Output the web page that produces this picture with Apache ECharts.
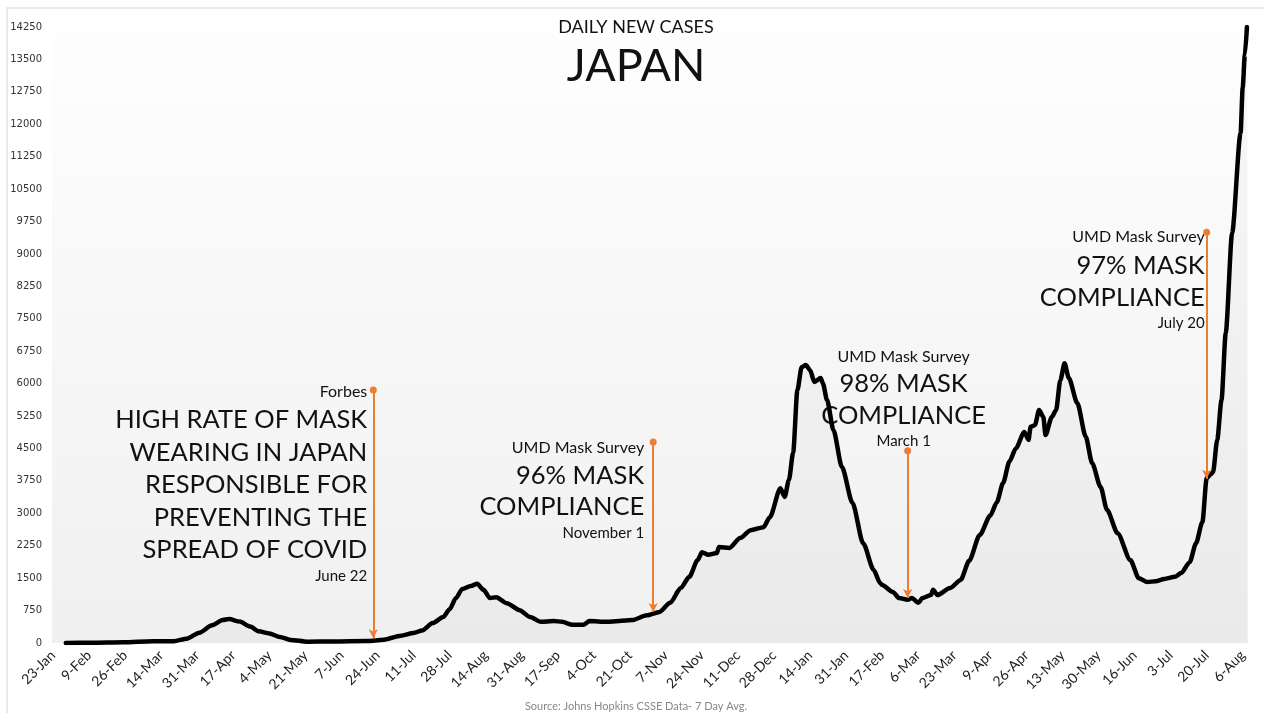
<!DOCTYPE html>
<html>
<head>
<meta charset="utf-8">
<title>Daily New Cases – Japan</title>
<script src="https://cdn.jsdelivr.net/npm/echarts@6/dist/echarts.min.js"></script>
<style>
  html, body { margin: 0; padding: 0; background: #ffffff; }
  #chart { width: 1264px; height: 713px; }
</style>
</head>
<body>
<div id="chart"></div>
<script>
// Day range of the category axis (one category per day)
const FIRST_DAY = '2020-01-23';
const LAST_DAY = '2021-08-08';

// Labels printed every 17 days along the x axis
const tickLabels = [
  '23-Jan', '9-Feb', '26-Feb', '14-Mar', '31-Mar', '17-Apr', '4-May', '21-May', '7-Jun',
  '24-Jun', '11-Jul', '28-Jul', '14-Aug', '31-Aug', '17-Sep', '4-Oct', '21-Oct', '7-Nov',
  '24-Nov', '11-Dec', '28-Dec', '14-Jan', '31-Jan', '17-Feb', '6-Mar', '23-Mar', '9-Apr',
  '26-Apr', '13-May', '30-May', '16-Jun', '3-Jul', '20-Jul', '6-Aug'
];

// 7-day average of daily new cases
const avgDates = [
  '2020-01-29', '2020-02-10', '2020-02-25', '2020-03-10', '2020-03-20', '2020-03-26',
  '2020-04-01', '2020-04-07', '2020-04-12', '2020-04-15', '2020-04-20', '2020-04-25',
  '2020-04-29', '2020-05-04', '2020-05-09', '2020-05-14', '2020-05-22', '2020-06-03',
  '2020-06-19', '2020-06-27', '2020-07-05', '2020-07-11', '2020-07-15', '2020-07-20',
  '2020-07-25', '2020-07-28', '2020-07-31', '2020-08-03', '2020-08-07', '2020-08-10',
  '2020-08-13', '2020-08-16', '2020-08-19', '2020-08-24', '2020-08-30', '2020-09-04',
  '2020-09-09', '2020-09-15', '2020-09-19', '2020-09-24', '2020-09-29', '2020-10-02',
  '2020-10-10', '2020-10-16', '2020-10-22', '2020-10-29', '2020-11-04', '2020-11-09',
  '2020-11-14', '2020-11-18', '2020-11-22', '2020-11-24', '2020-11-27', '2020-12-01',
  '2020-12-02', '2020-12-07', '2020-12-12', '2020-12-17', '2020-12-23', '2020-12-26',
  '2020-12-31', '2021-01-02', '2021-01-04', '2021-01-06', '2021-01-08', '2021-01-10',
  '2021-01-12', '2021-01-14', '2021-01-16', '2021-01-19', '2021-01-20', '2021-01-22',
  '2021-01-25', '2021-01-29', '2021-02-03', '2021-02-08', '2021-02-13', '2021-02-16',
  '2021-02-17', '2021-02-22', '2021-02-25', '2021-03-01', '2021-03-03', '2021-03-06',
  '2021-03-08', '2021-03-12', '2021-03-13', '2021-03-15', '2021-03-21', '2021-03-26',
  '2021-03-30', '2021-04-04', '2021-04-09', '2021-04-12', '2021-04-15', '2021-04-18',
  '2021-04-21', '2021-04-25', '2021-04-27', '2021-04-28', '2021-04-30', '2021-05-02',
  '2021-05-04', '2021-05-05', '2021-05-08', '2021-05-10', '2021-05-12', '2021-05-14',
  '2021-05-16', '2021-05-20', '2021-05-24', '2021-05-27', '2021-05-31', '2021-06-03',
  '2021-06-08', '2021-06-14', '2021-06-18', '2021-06-22', '2021-06-26', '2021-06-30',
  '2021-07-05', '2021-07-08', '2021-07-12', '2021-07-15', '2021-07-18', '2021-07-20',
  '2021-07-22', '2021-07-23', '2021-07-25', '2021-07-27', '2021-07-29', '2021-08-01',
  '2021-08-05', '2021-08-06', '2021-08-07', '2021-08-08'
];
const avgCases = [
  2, 4, 15, 40, 42, 100,
  240, 410, 530, 555, 495, 380,
  270, 220, 140, 70, 30, 35,
  45, 75, 170, 230, 290, 460,
  600, 780, 1040, 1250, 1320, 1370,
  1230, 1040, 1060, 920, 760, 600,
  490, 510, 490, 420, 420, 510,
  490, 510, 530, 640, 720, 930,
  1270, 1530, 1920, 2100, 2040, 2080,
  2220, 2200, 2430, 2610, 2680, 2910,
  3580, 3380, 3770, 4400, 5850, 6380,
  6430, 6310, 6040, 6130, 6010, 5620,
  4930, 4070, 3240, 2310, 1690, 1390,
  1340, 1180, 1040, 1000, 1040, 930,
  1040, 1110, 1230, 1110, 1270, 1460,
  1900, 2500, 2950, 3250, 3700, 4200,
  4500, 4880, 4700, 5000, 5040, 5390,
  5230, 4810, 5230, 5390, 6080, 6470,
  6130, 5550, 4770, 4160, 3610, 3080,
  2540, 1920, 1500, 1410, 1430, 1480,
  1530, 1620, 1870, 2310, 2800, 3810,
  3910, 3950, 4700, 5620, 7170, 9480,
  11800, 12850, 13600, 14250
];

// Call-outs: date the arrow points at, value range of the arrow, and the text
const noteDates = ['2020-06-22', '2020-11-01', '2021-03-01', '2021-07-20'];
const noteTop = [5850, 4650, 4450, 9500];
const noteTip = [110, 720, 1040, 3800];
const noteSource = ['Forbes', 'UMD Mask Survey', 'UMD Mask Survey', 'UMD Mask Survey'];
const noteHeadline = [
  ['HIGH RATE OF MASK', 'WEARING IN JAPAN', 'RESPONSIBLE FOR', 'PREVENTING THE', 'SPREAD OF COVID'],
  ['96% MASK', 'COMPLIANCE'],
  ['98% MASK', 'COMPLIANCE'],
  ['97% MASK', 'COMPLIANCE']
];
const noteDateText = ['June 22', 'November 1', 'March 1', 'July 20'];

const FONT = 'Lato, "Open Sans", sans-serif';

function parseDay(s) {
  const p = s.split('-').map(Number);
  return Date.UTC(p[0], p[1] - 1, p[2]);
}
const DAY_MS = 86400000;
const startMs = parseDay(FIRST_DAY);
function dayIndex(s) { return Math.round((parseDay(s) - startMs) / DAY_MS); }

const categories = [];
for (let t = startMs; t <= parseDay(LAST_DAY); t += DAY_MS) {
  categories.push(new Date(t).toISOString().slice(0, 10));
}

const lineData = avgDates.map((d, i) => [dayIndex(d), avgCases[i]]);
const arrowData = noteDates.map((d, i) => [
  { coord: [dayIndex(d), noteTop[i]] },
  { coord: [dayIndex(d), noteTip[i]] }
]);

const chart = echarts.init(document.getElementById('chart'), null, { renderer: 'canvas' });

chart.setOption({
  animation: false,
  backgroundColor: '#ffffff',
  grid: {
    left: 52, right: 16, top: 27, bottom: 70,
    show: true,
    borderWidth: 0,
    backgroundColor: new echarts.graphic.LinearGradient(0, 0, 0, 1, [
      { offset: 0, color: '#fefefe' },
      { offset: 1, color: '#f0f0f0' }
    ])
  },
  xAxis: {
    type: 'category',
    data: categories,
    boundaryGap: true,
    axisLine: { show: false },
    axisTick: { show: false },
    splitLine: { show: false },
    axisLabel: {
      interval: 16,
      rotate: 45,
      margin: 10,
      fontFamily: FONT,
      fontSize: 14,
      color: '#222',
      formatter: (value, idx) => (idx % 17 === 0 ? tickLabels[idx / 17] : '')
    }
  },
  yAxis: {
    type: 'value',
    min: 0,
    max: 14250,
    interval: 750,
    axisLine: { show: false },
    axisTick: { show: false },
    splitLine: { show: false },
    axisLabel: {
      margin: 10,
      fontFamily: '"DejaVu Sans", sans-serif',
      fontSize: 10,
      color: '#333',
      formatter: (v) => String(v)
    }
  },
  series: [{
    type: 'line',
    name: '7 Day Avg.',
    data: lineData,
    showSymbol: false,
    smooth: 0.25,
    smoothMonotone: 'x',
    lineStyle: { color: '#000', width: 4.5, cap: 'round', join: 'round' },
    areaStyle: { color: 'rgba(0,0,0,0.035)' },
    silent: true,
    markLine: {
      silent: true,
      symbol: ['circle', 'arrow'],
      symbolSize: [7, 9],
      lineStyle: { color: '#ED7D31', width: 2, type: 'solid' },
      itemStyle: { color: '#ED7D31' },
      label: { show: false },
      emphasis: { disabled: true },
      data: arrowData
    }
  }]
});

// Text blocks placed next to each arrow
const graphics = [];
function addText(x, y, text, size, align, color) {
  graphics.push({
    type: 'text', x: x, y: y, silent: true,
    style: {
      text: text, fontFamily: FONT, fontSize: size, fill: color || '#111',
      align: align, verticalAlign: 'middle', textAlign: align, textVerticalAlign: 'middle'
    }
  });
}

// title and source line
addText(636, 27, 'DAILY NEW CASES', 18, 'center');
addText(636, 66, 'JAPAN', 45, 'center');
addText(636, 706, 'Source: Johns Hopkins CSSE Data- 7 Day Avg.', 11, 'center', '#888');

const layouts = [
  { dx: -6, align: 'right', src: 2, head: [30, 63, 95, 128, 160], date: 186 },
  { dx: -9, align: 'right', src: 6, head: [34, 65], date: 91 },
  { dx: -4, align: 'center', src: -94, head: [-67, -35], date: -9 },
  { dx: -2, align: 'right', src: 5, head: [33, 65], date: 91 }
];
noteDates.forEach((d, i) => {
  const p = chart.convertToPixel({ xAxisIndex: 0, yAxisIndex: 0 }, [dayIndex(d), noteTop[i]]);
  const L = layouts[i];
  const x = p[0] + L.dx;
  addText(x, p[1] + L.src, noteSource[i], 16, L.align);
  noteHeadline[i].forEach((line, k) => addText(x, p[1] + L.head[k], line, 25.5, L.align));
  addText(x, p[1] + L.date, noteDateText[i], 15, L.align);
});

// thin frame around the chart
graphics.push({
  type: 'rect', silent: true,
  shape: { x: 7, y: 8, width: 1280, height: 740 },
  style: { fill: 'none', stroke: '#e2e2e2', lineWidth: 1.5 }
});

chart.setOption({ graphic: graphics });
</script>
</body>
</html>
